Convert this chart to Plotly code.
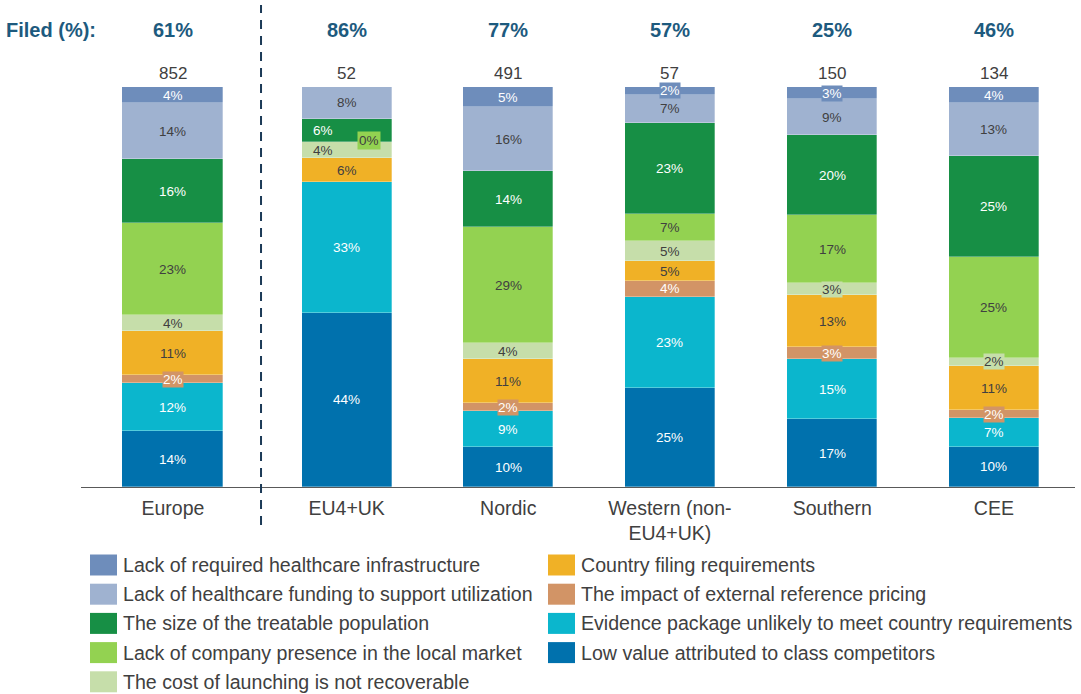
import plotly.graph_objects as go

# ---------------- data ----------------
categories = ["Europe", "EU4+UK", "Nordic", "Western (non-<br>EU4+UK)", "Southern", "CEE"]
filed_pct = ["61%", "86%", "77%", "57%", "25%", "46%"]
totals = [852, 52, 491, 57, 150, 134]

series_names = [
    "Low value attributed to class competitors",
    "Evidence package unlikely to meet country requirements",
    "The impact of external reference pricing",
    "Country filing requirements",
    "The cost of launching is not recoverable",
    "Lack of company presence in the local market",
    "The size of the treatable population",
    "Lack of healthcare funding to support utilization",
    "Lack of required healthcare infrastructure",
]
low_value = [14, 44, 10, 25, 17, 10]
evidence = [12, 33, 9, 23, 15, 7]
erp = [2, 0, 2, 4, 3, 2]
filing = [11, 6, 11, 5, 13, 11]
cost = [4, 4, 4, 5, 3, 2]
presence = [23, 0, 29, 7, 17, 25]
size_pop = [16, 6, 14, 23, 20, 25]
funding = [14, 8, 16, 7, 9, 13]
infra = [4, 0, 5, 2, 3, 4]
series_values = [low_value, evidence, erp, filing, cost, presence, size_pop, funding, infra]

# ---------------- styles / positions ----------------
colors = ["#0071ad", "#0bb6cd", "#d29466", "#f0b126", "#c6deaa",
          "#93d251", "#178f45", "#9fb2d0", "#6e8dbb"]
label_colors = ["white", "white", "white", "#404040", "#404040",
                "#404040", "white", "#404040", "white"]
x_pos = [0, 1.075, 2.075, 3.075, 4.08, 5.08]
bar_widths = [0.625, 0.555, 0.555, 0.555, 0.555, 0.555]
FONT = "Arial, Liberation Sans, sans-serif"
DARK = "#404040"
BLUE_T = "#1d5a7e"

fig = go.Figure()
for name, vals, col in zip(series_names, series_values, colors):
    fig.add_trace(go.Bar(
        x=x_pos, y=vals, width=bar_widths, name=name, showlegend=False,
        marker=dict(color=col, line=dict(color="rgba(255,255,255,0.5)", width=0.6)),
        hoverinfo="name",
    ))

annotations = []
# segment labels (positions follow the percent-normalised stacks)
n_cat = len(categories)
col_tot = [sum(s[i] for s in series_values) for i in range(n_cat)]
for i in range(n_cat):
    cum = 0.0
    scale = 100.0 / col_tot[i]
    for k, vals in enumerate(series_values):
        v = vals[i]
        y_mid = (cum + v / 2) * scale
        y_base = cum * scale
        cum += v
        xshift = 0
        fc = label_colors[k]
        if v == 0:
            if k == 5:  # zero share for company presence, drawn as a tagged label
                annotations.append(dict(
                    x=x_pos[i], y=y_base, text=f"{v}%", showarrow=False, xshift=22, yshift=2,
                    font=dict(size=13.5, color=DARK, family=FONT), bgcolor=colors[k], borderpad=1))
            continue
        if i == 1 and k in (4, 6):
            xshift = -24
        a = dict(x=x_pos[i], y=y_mid, text=f"{v}%", showarrow=False, xshift=xshift,
                 font=dict(size=13.5, color=fc, family=FONT), borderpad=0)
        if v <= 3:
            a["bgcolor"] = colors[k]
        annotations.append(a)

# totals and filed %
for i in range(n_cat):
    annotations.append(dict(x=x_pos[i], y=100, yshift=14, text=str(totals[i]), showarrow=False,
                            yanchor="middle", font=dict(size=17, color=DARK, family=FONT)))
    annotations.append(dict(x=x_pos[i], y=1.1425, yref="paper", yanchor="middle",
                            text=f"<b>{filed_pct[i]}</b>",
                            showarrow=False, font=dict(size=20, color=BLUE_T, family=FONT)))
annotations.append(dict(x=-0.0775, y=1.1425, xref="paper", yref="paper", xanchor="left",
                        yanchor="middle", text="<b>Filed (%):</b>", showarrow=False,
                        font=dict(size=20, color=BLUE_T, family=FONT)))

# custom legend (two columns)
L, R, T, B = 81, 6, 87, 207
PW = 1081 - L - R
PH = 694 - T - B


def px2x(px):
    return (px - L) / PW


def py2y(py):
    return (T + PH - py) / PH


shapes = [dict(type="line", xref="x", yref="paper", x0=0.545, x1=0.545, y0=-0.095, y1=1.205,
               line=dict(color="#1c3a57", width=2, dash="9px,7px"))]

legend_cols = [
    [8, 7, 6, 5, 4],   # infra, funding, size, presence, cost
    [3, 2, 1, 0],      # filing, erp, evidence, low value
]
col_x = [90, 548]
for c, idxs in enumerate(legend_cols):
    for r, k in enumerate(idxs):
        cy = 565 + 29.2 * r
        shapes.append(dict(type="rect", xref="paper", yref="paper",
                           x0=px2x(col_x[c]), x1=px2x(col_x[c] + 27),
                           y0=py2y(cy + 10.5), y1=py2y(cy - 10.5),
                           fillcolor=colors[k], line=dict(width=0)))
        annotations.append(dict(xref="paper", yref="paper", x=px2x(col_x[c] + 31), y=py2y(cy),
                                xanchor="left", yanchor="middle", text=series_names[k],
                                showarrow=False, font=dict(size=19.6, color=DARK, family=FONT)))

fig.update_layout(
    barmode="stack",
    barnorm="percent",
    width=1081, height=694,
    margin=dict(l=L, r=R, t=T, b=B),
    plot_bgcolor="white", paper_bgcolor="white",
    bargap=0,
    xaxis=dict(range=[-0.569, 5.582], tickvals=x_pos, ticktext=categories, ticks="",
               ticklabelstandoff=3,
               showgrid=False, zeroline=False, showline=True, linecolor="#595959", linewidth=1.2,
               tickfont=dict(size=19.5, color=DARK, family=FONT)),
    yaxis=dict(range=[0, 100], visible=False, showgrid=False),
    annotations=annotations,
    shapes=shapes,
    showlegend=False,
    font=dict(family=FONT),
)

fig.write_html("out.html", config={"displayModeBar": False},
               post_script="document.body.style.margin='0';document.body.style.overflow='hidden';")
